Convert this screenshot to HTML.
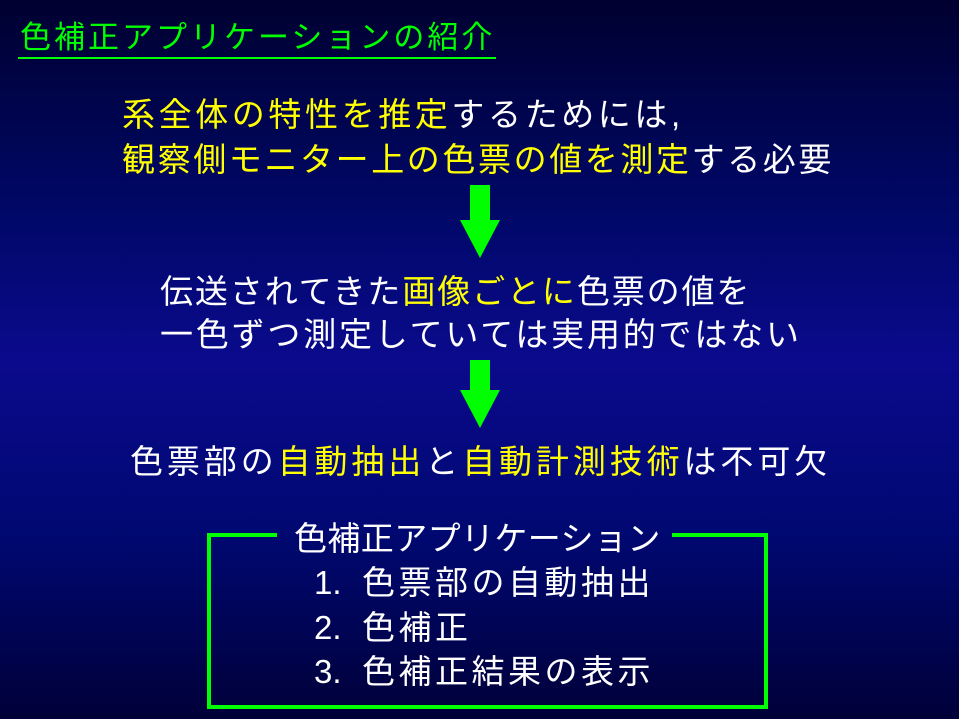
<!DOCTYPE html>
<html><head><meta charset="utf-8"><style>
html,body{margin:0;padding:0}
body{width:959px;height:719px;overflow:hidden;position:relative;
background:linear-gradient(#000030 0%,#000868 30%,#0a0a8c 50%,#000870 75%,#000038 100%);
font-family:"Liberation Sans","Noto Sans CJK JP",sans-serif;color:#fff}
.t{position:absolute;white-space:nowrap;font-size:33px;line-height:40px}
.y{color:#ffff00}.g{color:#00ff00}
</style></head><body>
<div class="t g" style="left:20px;top:18px;font-size:31px;letter-spacing:3px;">色補正アプリケーションの紹介</div>
<div style="position:absolute;left:18px;top:57px;width:478px;height:2px;background:#00ff00"></div>

<div class="t" style="left:122px;top:95px;letter-spacing:3.6px;"><span class="y">系全体の特性を推定</span>するためには,</div>
<div class="t" style="left:122px;top:140px;letter-spacing:2.6px;"><span class="y">観察側モニター上の色票の値を測定</span>する必要</div>

<svg style="position:absolute;left:0;top:0" width="959" height="719">
<polygon points="470,185 490,185 490,220 500,220 480,258 460,220 470,220" fill="#00ff00"/>
<polygon points="470,360 490,360 490,390 500,390 480,428 460,390 470,390" fill="#00ff00"/>
<polyline points="277,535 209,535 209,707 766,707 766,535 672,535" fill="none" stroke="#00ff00" stroke-width="4"/>
</svg>

<div class="t" style="left:160px;top:272px;letter-spacing:1.9px;">伝送されてきた<span class="y">画像ごとに</span>色票の値を</div>
<div class="t" style="left:160px;top:315px;letter-spacing:2.8px;">一色ずつ測定していては実用的ではない</div>

<div class="t" style="left:130px;top:442px;letter-spacing:3.9px;">色票部の<span class="y">自動抽出</span>と<span class="y">自動計測技術</span>は不可欠</div>

<div class="t" style="left:294px;top:519px;letter-spacing:0.4px;">色補正アプリケーション</div>
<div class="t" style="left:314px;top:563px;">1.</div>
<div class="t" style="left:362px;top:563px;letter-spacing:3.5px;">色票部の自動抽出</div>
<div class="t" style="left:314px;top:608px;">2.</div>
<div class="t" style="left:362px;top:608px;letter-spacing:3.5px;">色補正</div>
<div class="t" style="left:314px;top:652px;">3.</div>
<div class="t" style="left:362px;top:652px;letter-spacing:3.5px;">色補正結果の表示</div>
</body></html>
